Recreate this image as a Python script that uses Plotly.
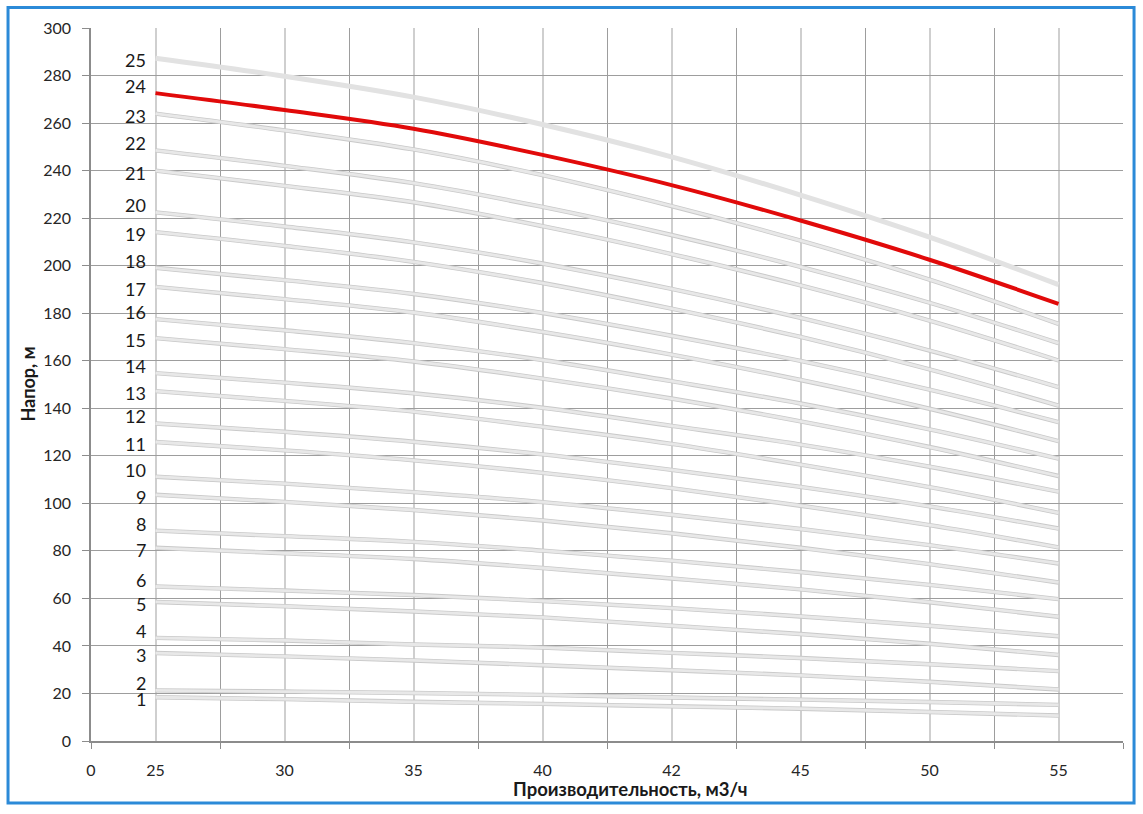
import plotly.graph_objects as go

# Flow rate categories (m3/h) as printed on the x axis
flow = [25, 30, 35, 40, 42, 45, 50, 55]
axis_origin_label = "0"

# Head (m) for each curve, numbered 1..25
head = {
    1:  [18.4, 17.6, 16.5, 15.6, 14.6, 13.6, 12.2, 10.7],
    2:  [21.3, 20.8, 20.2, 19.4, 18.3, 17.4, 16.4, 15.2],
    3:  [37.0, 35.6, 33.9, 31.9, 29.8, 27.6, 24.9, 21.7],
    4:  [43.4, 42.3, 40.6, 39.3, 37.1, 34.9, 32.3, 29.4],
    5:  [58.5, 56.7, 54.5, 52.0, 48.5, 45.0, 40.9, 36.2],
    6:  [65.0, 63.3, 61.4, 58.9, 55.9, 52.4, 48.5, 44.1],
    7:  [81.3, 79.0, 76.6, 72.8, 68.4, 63.8, 58.4, 52.3],
    8:  [88.5, 86.2, 83.8, 80.1, 75.9, 71.1, 65.7, 59.7],
    9:  [103.6, 100.6, 97.2, 92.8, 87.4, 81.3, 74.4, 66.7],
    10: [111.2, 108.3, 104.7, 100.5, 95.2, 89.2, 82.4, 74.7],
    11: [125.8, 122.3, 118.1, 112.8, 106.4, 99.0, 90.8, 81.5],
    12: [133.6, 130.1, 125.9, 120.6, 114.1, 106.9, 98.7, 89.4],
    13: [147.2, 143.1, 138.6, 132.2, 125.0, 116.3, 106.8, 96.0],
    14: [154.8, 150.8, 146.3, 140.2, 132.6, 124.7, 115.4, 104.9],
    15: [169.5, 164.9, 159.7, 152.5, 144.1, 134.5, 123.7, 111.5],
    16: [177.5, 172.8, 167.4, 160.3, 151.4, 142.0, 131.1, 118.8],
    17: [191.1, 185.9, 180.3, 172.1, 162.6, 151.9, 139.8, 126.2],
    18: [199.1, 193.9, 188.1, 180.1, 170.5, 159.9, 147.8, 134.2],
    19: [214.1, 208.3, 201.6, 192.7, 181.9, 170.0, 156.4, 141.1],
    20: [222.4, 216.5, 209.8, 200.9, 190.2, 178.0, 164.3, 148.9],
    21: [240.0, 233.6, 226.7, 216.6, 204.9, 191.7, 176.9, 160.1],
    22: [248.5, 242.0, 234.7, 224.7, 212.9, 199.5, 184.4, 167.4],
    23: [264.0, 256.9, 248.9, 238.1, 225.1, 210.5, 194.1, 175.5],
    24: [272.6, 265.5, 257.6, 246.6, 233.9, 219.0, 202.5, 183.9],
    25: [287.3, 279.7, 270.9, 259.4, 245.8, 229.7, 212.0, 192.0],
}
highlight_curve = 24

x_title = "Производительность, м3/ч"
y_title = "Напор, м"

# category slots: each flow value sits in the middle of a category band
xpos = [2 * i + 1 for i in range(len(flow))]
n_slots = 2 * len(flow) + 2

FONT = "Lato, Calibri, Carlito, sans-serif"
fig = go.Figure()

for n, vals in head.items():
    if n == highlight_curve:
        continue
    if n == 25:
        fig.add_trace(go.Scatter(x=xpos, y=vals, mode="lines", line=dict(color="#e2e2e2", width=5, shape="spline"),
                                 hoverinfo="skip", showlegend=False))
    else:
        fig.add_trace(go.Scatter(x=xpos, y=vals, mode="lines", line=dict(color="#c9c9c9", width=4.4, shape="spline"),
                                 hoverinfo="skip", showlegend=False))
        fig.add_trace(go.Scatter(x=xpos, y=vals, mode="lines", line=dict(color="#e8e8e8", width=2.8, shape="spline"),
                                 name=str(n), showlegend=False))

fig.add_trace(go.Scatter(x=xpos, y=head[highlight_curve], mode="lines",
                         line=dict(color="#e10a0a", width=4, shape="spline"),
                         name=str(highlight_curve), showlegend=False))

for n, vals in head.items():
    fig.add_annotation(x=xpos[0], y=vals[0], text=str(n), showarrow=False, xanchor="right", yanchor="middle",
                       xshift=-8, yshift=(7 if n % 2 == 0 else -2),
                       font=dict(family=FONT, size=18, color="#1a1a1a"))

# axis titles
fig.add_annotation(xref="paper", yref="paper", x=0.523, y=-0.0673, text="<b>" + x_title + "</b>",
                   showarrow=False, xanchor="center", yanchor="middle",
                   font=dict(family=FONT, size=18.5, color="#1a1a1a"))
fig.add_annotation(xref="paper", yref="paper", x=-0.062, y=0.5, text="<b>" + y_title + "</b>", textangle=-90,
                   showarrow=False, xanchor="center", yanchor="middle",
                   font=dict(family=FONT, size=18, color="#1a1a1a"))

fig.update_xaxes(range=[0, n_slots - 2], tickmode="array", tickvals=[0] + xpos,
                 ticktext=[axis_origin_label] + [str(q) for q in flow],
                 showgrid=True, gridcolor="#cfcfcf", gridwidth=1.5, ticks="", ticklabelstandoff=14,
                 minor=dict(dtick=2, tick0=0, showgrid=True, gridcolor="#9d9d9d", gridwidth=1.2,
                            ticks="outside", ticklen=6, tickcolor="#8c8c8c"),
                 showline=True, linecolor="#8c8c8c", linewidth=1.5, zeroline=False,
                 tickfont=dict(family=FONT, size=16, color="#262626"))
fig.update_yaxes(range=[0, 300], dtick=20, showgrid=True, gridcolor="#9d9d9d", gridwidth=1.2,
                 ticks="outside", ticklen=7, tickcolor="#8c8c8c", ticklabelstandoff=8,
                 showline=True, linecolor="#8c8c8c", linewidth=1.5, zeroline=False,
                 tickfont=dict(family=FONT, size=16, color="#262626"))

fig.add_shape(type="rect", xref="paper", yref="paper", x0=-0.0804, x1=1.0107, y0=-0.087, y1=1.0288,
              line=dict(color="#2b8ad8", width=3), fillcolor="rgba(0,0,0,0)", layer="below")

fig.update_layout(width=1143, height=814, margin=dict(l=91, r=20, t=28, b=73),
                  paper_bgcolor="white", plot_bgcolor="white", showlegend=False)

fig.write_html("out.html", config={"displayModeBar": False})

# remove the browser's default page margin so the figure sits at the top-left corner
with open("out.html", "r", encoding="utf-8") as f:
    html = f.read()
html = html.replace("<head>", "<head><style>html,body{margin:0;padding:0;}</style>", 1)
with open("out.html", "w", encoding="utf-8") as f:
    f.write(html)
